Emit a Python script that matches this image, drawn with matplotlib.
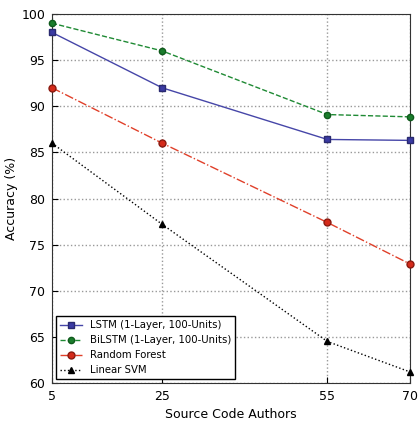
import matplotlib
matplotlib.use("Agg")
import matplotlib.pyplot as plt

authors = [5, 25, 55, 70]
lstm = [98.0, 92.0, 86.4, 86.3]
bilstm = [99.0, 96.0, 89.1, 88.85]
rf = [92.0, 86.0, 77.4, 72.9]
svm = [86.0, 77.2, 64.5, 61.2]
labels = ["LSTM (1-Layer, 100-Units)", "BiLSTM (1-Layer, 100-Units)", "Random Forest", "Linear SVM"]
yticks = [60, 65, 70, 75, 80, 85, 90, 95, 100]

plt.rcParams['font.family'] = ['DejaVu Sans']
fig = plt.figure(figsize=(4.18, 4.24), dpi=100)
ax = fig.add_axes([52/418, 1 - 383/424, (410-52)/418, (383-14)/424])

ax.plot(authors, lstm, color='#4646a8', ls='-', lw=1, marker='s', ms=5, mec='#2a2a70', mfc='#3b3ba3', label=labels[0], clip_on=False, zorder=5)
ax.plot(authors, bilstm, color='#1f8a34', ls='--', lw=1, marker='o', ms=4.5, mec='#0f5a1c', mfc='#1a7d2c', label=labels[1], clip_on=False, zorder=5)
ax.plot(authors, rf, color='#e0402a', ls='-.', lw=1, marker='o', ms=5, mec='#8a1a10', mfc='#d42a1a', label=labels[2], clip_on=False, zorder=5)
ax.plot(authors, svm, color='black', ls=':', lw=1, marker='^', ms=5, label=labels[3], clip_on=False, zorder=5)

ax.set_xlim(5, 70)
ax.set_ylim(60, 100)
ax.set_xticks(authors)
ax.set_yticks(yticks)
ax.tick_params(direction='in', labelsize=9, length=4, pad=5)
ax.grid(True, ls=':', color='#999999', lw=1)
ax.set_axisbelow(True)
ax.set_xlabel("Source Code Authors", fontsize=9, labelpad=4)
ax.set_ylabel("Accuracy (%)", fontsize=9, labelpad=2.5)
for s in ax.spines.values():
    s.set_color('#333333')
leg = ax.legend(loc='lower left', fontsize=7.3, fancybox=False, framealpha=1, edgecolor='black',
                borderaxespad=0.35, handlelength=2.2, labelspacing=0.5, borderpad=0.4)
leg.get_frame().set_linewidth(1)
fig.savefig("out.png", dpi=100)
